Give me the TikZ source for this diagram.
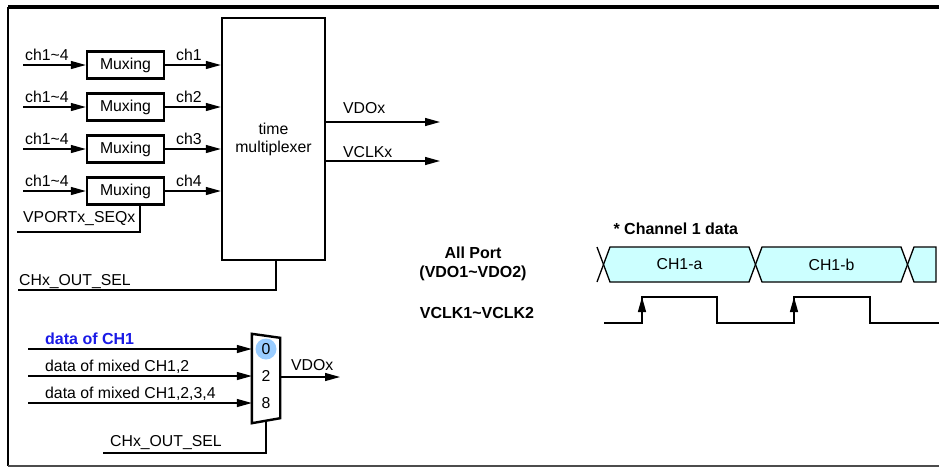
\documentclass[tikz,border=0pt]{standalone}
\usepackage{fontspec}
\setmainfont{Liberation Sans}
\usetikzlibrary{arrows.meta}
\definecolor{cellcyan}{HTML}{CCFFFF}
\definecolor{selblue}{HTML}{99CCFF}
\definecolor{chblue}{HTML}{1A1AE6}
\tikzset{muxbox/.style={draw, line width=2.4pt, minimum width=77pt, minimum height=27pt, inner sep=0pt},
  wire/.style={line width=1.3pt},
  sig/.style={wire, -{Triangle[length=15pt,width=8pt]}},
  lbl/.style={anchor=base west, inner sep=0pt},
  cell/.style={wire, fill=cellcyan},
  boldtxt/.style={font=\fontsize{16}{19}\selectfont\bfseries}}

\begin{document}
\begin{tikzpicture}[x=1pt, y=-1pt, font=\fontsize{15.8}{18}\selectfont]
    \useasboundingbox (0,0) rectangle (939,467);
    \draw [line width=3.5pt] (8,7) -- (939,7);
    \draw [line width=2.2pt] (8,7) -- (8,466);
    \draw [line width=1.6pt, black!70] (8,466) -- (939,466);

    \node [draw, line width=2.4pt, minimum width=103pt, minimum height=242pt, align=center] (tm) at (273.5,139) {time\\multiplexer};
    \foreach \i/\y in {1/65,2/107,3/149,4/191} {
      \node [muxbox] (m\i) at (125.5,\y) {Muxing};
      \coordinate (in\i) at (23,\y);
      \draw [sig] (in\i) -- (m\i);
      \draw [sig] (m\i) -- (m\i -| tm.west);
      \node [lbl] (inl\i) at (25,\y-5) {ch1\textasciitilde4};
      \node [lbl] (outl\i) at (176,\y-5) {ch\i};
    }
    \coordinate (seq) at (17,232);
    \draw [wire] ([xshift=14.5pt]m4.south) |- (seq);
    \node [lbl] (seql) at (23,222) {VPORTx\_SEQx};
    \coordinate (selA) at (18,290);
    \draw [wire] ([xshift=2.5pt]tm.south) |- (selA);
    \node [lbl] (selAl) at (19,285) {CHx\_OUT\_SEL};

    \coordinate (vdo) at (440,122);
    \coordinate (vclk) at (440,161);
    \draw [sig] (tm.east |- vdo) -- (vdo);
    \draw [sig] (tm.east |- vclk) -- (vclk);
    \node [lbl] (vdol) at (343,113) {VDOx};
    \node [lbl] (vclkl) at (343,157) {VCLKx};

    \node [minimum width=28pt, minimum height=84pt, inner sep=0pt] (mux) at (266,378) {};
    \draw [line width=2.4pt] ([yshift=2pt]mux.north west) -- ([yshift=-2pt]mux.north east)
      -- ([yshift=2pt]mux.south east) -- ([yshift=-3pt]mux.south west) -- cycle;
    \coordinate (d0) at (28,349);
    \coordinate (d2) at (28,376);
    \coordinate (d8) at (28,403);
    \fill [selblue] (mux.center |- d0) circle (10.5);
    \node (n0) at (mux.center |- d0) {0};
    \node (n2) at (mux.center |- d2) {2};
    \node (n8) at (mux.center |- d8) {8};
    \draw [sig] (d0) -- (d0 -| mux.west);
    \draw [sig] (d2) -- (d2 -| mux.west);
    \draw [sig] (d8) -- (d8 -| mux.west);
    \node [lbl, text=chblue, boldtxt] (d0l) at (45,344) {data of CH1};
    \node [lbl] (d2l) at (45,371) {data of mixed CH1,2};
    \node [lbl] (d8l) at (45,398) {data of mixed CH1,2,3,4};
    \coordinate (mout) at (340,377);
    \draw [sig] (mux.east |- mout) -- (mout);
    \node [lbl] (moutl) at (291,370) {VDOx};
    \coordinate (selB) at (103,453);
    \draw [wire] (mux.south) |- (selB);
    \node [lbl] (selBl) at (110,446) {CHx\_OUT\_SEL};

    \node [boldtxt, anchor=west] (chd) at (610,229) {* Channel 1 data};
    \node [boldtxt, align=center] (port) at (473,264) {All Port\\(VDO1\textasciitilde VDO2)};
    \node [boldtxt] (clk) at (477,313) {VCLK1\textasciitilde VCLK2};
    \draw [wire] (597,247) -- (603.5,264.5) -- (597,282);
    \filldraw [cell] (603.5,264.5) -- (610,247) -- (749,247) -- (755.5,264.5) -- (749,282) -- (610,282) -- cycle;
    \filldraw [cell] (755.5,264.5) -- (762,247) -- (901,247) -- (907.5,264.5) -- (901,282) -- (762,282) -- cycle;
    \filldraw [cell] (907.5,264.5) -- (914,247) -- (936,247) -- (936,282) -- (914,282) -- cycle;
    \node (ca) at (679.5,264.5) {CH1-a};
    \node (cb) at (831.5,264.5) {CH1-b};
    \draw [wire] (604,323) -- (642,323) -- (642,297) -- (717,297) -- (717,323) -- (794,323)
      -- (794,297) -- (870,297) -- (870,323) -- (939,323);
    \draw [sig] (642,323) -- (642,297);
    \draw [sig] (794,323) -- (794,297);
\end{tikzpicture}
\end{document}
